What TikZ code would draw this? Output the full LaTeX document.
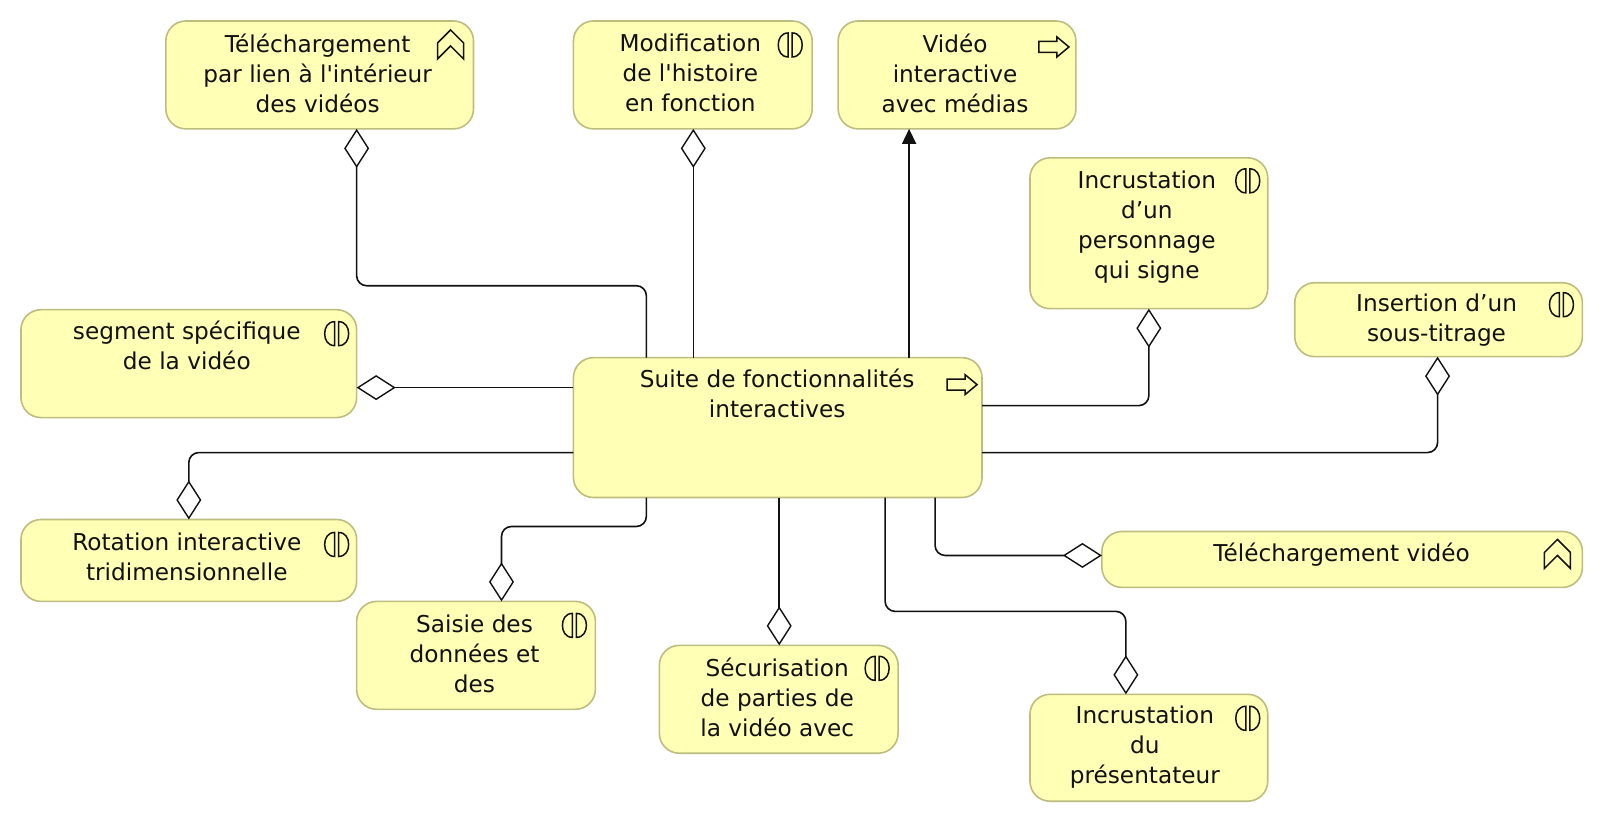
\documentclass[tikz,border=0pt]{standalone}
\usepackage{fontspec}
\newfontfamily\lab{DejaVu Sans}
\usetikzlibrary{arrows.meta}
\definecolor{boxfill}{HTML}{FFFFB5}
\definecolor{boxline}{HTML}{BDBD80}
\definecolor{ink}{HTML}{111111}
\tikzset{
  box/.style={draw=boxline,fill=boxfill,line width=0.8pt,rounded corners=10pt,inner sep=0pt,outer sep=0pt},
  txt/.style={align=center,inner sep=0pt,text=ink,font=\lab\fontsize{11.6}{15}\selectfont},
  conn/.style={draw=ink,line width=0.8pt,rounded corners=5pt},
  comp/.style={conn,-{Diamond[open,length=19.5pt,width=12.5pt,line width=0.7pt]}},
  real/.style={conn,-{Triangle[length=7.5pt,width=7pt]}},
  icon/.style={draw=ink,line width=0.75pt,line join=miter}
}
\newcommand\boxat[5]{%
  \pgfmathsetmacro\bw{(#4-#2)*0.4995}\pgfmathsetmacro\bh{(#5-#3)*0.4995}%
  \node[box,minimum width=\bw pt,minimum height=\bh pt] (#1) at ({(#2+#4)/2},{(#3+#5)/2}) {};}
\newcommand\chevicon[2]{\draw[icon,shift={(#1,#2)}] (0,-15) -- (13,-2) -- (13,14) -- (0,1) -- (-13,14) -- (-13,-2) -- cycle;}
\newcommand\arrowicon[2]{\draw[icon,shift={(#1,#2)}] (-15,-5.5) -- (3,-5.5) -- (3,-10) -- (15,0) -- (3,10) -- (3,5.5) -- (-15,5.5) -- cycle;}
\newcommand\ifaceicon[2]{\draw[icon,shift={(#1,#2)}] (-2,-12) .. controls (-9,-12) and (-12,-6) .. (-12,0) .. controls (-12,6) and (-9,12) .. (-2,12) -- cycle (2,-12) .. controls (9,-12) and (12,-6) .. (12,0) .. controls (12,6) and (9,12) .. (2,12) -- cycle;}
\begin{document}
\begin{tikzpicture}[x=0.4995pt,y=-0.4995pt]
\useasboundingbox (0,0) rectangle (1603.6,822.82);
\boxat{A}{166}{21}{474}{129}
\boxat{B}{574}{21}{813}{129}
\boxat{C}{839}{21}{1077}{129}
\boxat{D}{1031}{158}{1269}{309}
\boxat{E}{1296}{283}{1584}{357}
\boxat{F}{21}{310}{357}{418}
\boxat{G}{574}{358}{983}{498}
\boxat{H}{21}{520}{357}{602}
\boxat{I}{357}{602}{596}{710}
\boxat{J}{660}{646}{899}{754}
\boxat{K}{1103}{532}{1584}{588}
\boxat{L}{1031}{695}{1269}{802}
\node[txt] (At) at (318,73) {Téléchargement\\par lien à l'intérieur\\des vidéos};
\node[txt] (Bt) at (691,73) {Modification\\de l'histoire\\en fonction};
\node[txt] (Ct) at (956,73) {Vidéo\\interactive\\avec médias};
\node[txt] (Dt) at (1148,227) {Incrustation\\d’un\\personnage\\qui signe};
\node[txt] (Et) at (1438,320) {Insertion d’un\\sous-titrage};
\node[txt] (Ft) at (187,346) {segment spécifique\\de la vidéo};
\node[txt] (Gt) at (778,394) {Suite de fonctionnalités\\interactives};
\node[txt] (Ht) at (187,557) {Rotation interactive\\tridimensionnelle};
\node[txt] (It) at (475,654) {Saisie des\\données et\\des};
\node[txt] (Jt) at (778,698) {Sécurisation\\de parties de\\la vidéo avec};
\node[txt] (Kt) at (1343,555) {Téléchargement vidéo};
\node[txt] (Lt) at (1146,748) {Incrustation\\du\\présentateur};
\chevicon{451}{45}
\ifaceicon{791}{45}
\arrowicon{1055}{47}
\ifaceicon{1249}{181}
\ifaceicon{1563}{305}
\ifaceicon{337}{334}
\arrowicon{963}{385}
\ifaceicon{337}{545}
\ifaceicon{575}{626}
\ifaceicon{878}{669}
\chevicon{1559}{555}
\ifaceicon{1249}{719}
\draw[comp] (647,0 |- G.north) -- (647,286) -- (357,286) -- (357,0 |- A.south);
\draw[comp] (694,0 |- G.north) -- (694,0 |- B.south);
\draw[real] (910,0 |- G.north) -- (910,0 |- C.south);
\draw[comp] (G.east |- 0,406) -- (1150,406) -- (1150,0 |- D.south);
\draw[comp] (G.east |- 0,453) -- (1439,453) -- (1439,0 |- E.south);
\draw[comp] (G.west |- 0,388) -- (F.east |- 0,388);
\draw[comp] (G.west |- 0,453) -- (189,453) -- (189,0 |- H.north);
\draw[comp] (647,0 |- G.south) -- (647,527) -- (502,527) -- (502,0 |- I.north);
\draw[comp] (780,0 |- G.south) -- (780,0 |- J.north);
\draw[comp] (936,0 |- G.south) -- (936,556) -- (K.west |- 0,556);
\draw[comp] (886,0 |- G.south) -- (886,612) -- (1127,612) -- (1127,0 |- L.north);
\end{tikzpicture}
\end{document}
